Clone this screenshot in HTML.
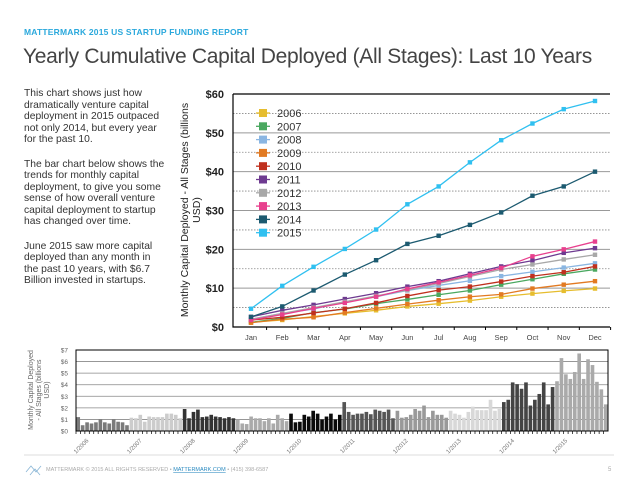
<!DOCTYPE html>
<html><head><meta charset="utf-8"><style>
body{margin:0;width:638px;height:479px;background:#fff;font-family:"Liberation Sans",sans-serif;overflow:hidden;position:relative}
.hdr{position:absolute;left:24px;top:27px;font-size:8.5px;font-weight:bold;color:#2aa8dc;letter-spacing:0.2px}
.ttl{position:absolute;left:23px;top:45px;font-size:21px;color:#444;font-weight:normal;letter-spacing:-0.3px}
.txt{position:absolute;left:24px;top:88px;width:150px;font-size:10.3px;line-height:11.5px;color:#333}
.txt p{margin:0 0 13px 0}
svg{position:absolute;left:0;top:0}
</style></head><body>
<div class="hdr">MATTERMARK 2015 US STARTUP FUNDING REPORT</div>
<div class="ttl">Yearly Cumulative Capital Deployed (All Stages): Last 10 Years</div>
<div class="txt">
<p>This chart shows just how<br>dramatically venture capital<br>deployment in 2015 outpaced<br>not only 2014, but every year<br>for the past 10.</p>
<p>The bar chart below shows the<br>trends for monthly capital<br>deployment, to give you some<br>sense of how overall venture<br>capital deployment to startup<br>has changed over time.</p>
<p>June 2015 saw more capital<br>deployed than any month in<br>the past 10 years, with $6.7<br>Billion invested in startups.</p>
</div>
<svg id="svg" width="638" height="479"></svg>
<script>
const months=["Jan","Feb","Mar","Apr","May","Jun","Jul","Aug","Sep","Oct","Nov","Dec"];
const lineYears=["2006","2007","2008","2009","2010","2011","2012","2013","2014","2015"];
const lineColors=["#e6bd2e","#4aa860","#8ab6e2","#e27a22","#c0301e","#6e3a90","#a8a8a8","#e8408e","#1c5a70","#30c0f0"];
const s2006=[1.2,1.8,2.7,3.5,4.3,5.3,6.0,6.8,7.8,8.6,9.3,9.9];
const s2007=[1.2,2.2,3.7,4.6,6.0,7.1,8.3,9.4,10.9,12.3,13.7,14.8];
const s2008=[2.0,3.5,4.6,6.5,7.8,9.4,10.7,11.9,13.1,14.2,15.3,16.4];
const s2009=[1.1,2.0,2.5,3.7,4.8,5.9,6.9,7.8,8.4,9.9,10.9,11.8];
const s2010=[1.8,2.5,3.6,4.7,6.2,8.0,9.5,10.4,11.7,13.1,14.1,15.6];
const s2011=[2.6,4.3,5.7,7.2,8.7,10.4,11.8,13.7,15.6,17.1,19.1,20.3];
const s2012=[2.0,3.5,5.0,6.5,8.0,9.5,11.2,13.0,14.8,16.1,17.4,18.6];
const s2013=[1.8,3.2,4.8,6.2,7.8,9.8,11.5,13.3,15.2,18.2,20.0,22.0];
const s2014=[2.6,5.3,9.4,13.5,17.2,21.4,23.5,26.3,29.5,33.8,36.2,40.0];
const s2015=[4.7,10.6,15.5,20.1,25.1,31.6,36.2,42.4,48.1,52.4,56.1,58.2];
const lineTicks=["$0","$10","$20","$30","$40","$50","$60"];
const barYears=["2006","2007","2008","2009","2010","2011","2012","2013","2014","2015"];
const barShades=["#7a7a7a","#cccccc","#333333","#aaaaaa","#0a0a0a","#555555","#999999","#d8d8d8","#444444","#aaaaaa"];
const b2006=[1.2,0.5,0.75,0.65,0.75,1.0,0.75,0.65,1.0,0.8,0.75,0.5];
const b2007=[1.15,1.1,1.4,0.8,1.25,1.2,1.2,1.2,1.5,1.5,1.4,1.1];
const b2008=[1.9,1.1,1.65,1.85,1.2,1.25,1.4,1.25,1.2,1.1,1.2,1.1];
const b2009=[1.0,0.65,0.6,1.25,1.1,1.1,0.85,1.1,0.65,1.4,1.1,0.85];
const b2010=[1.5,0.75,0.8,1.4,1.25,1.75,1.5,1.0,1.25,1.5,1.0,1.4];
const b2011=[2.5,1.65,1.4,1.5,1.5,1.65,1.45,1.85,1.75,1.65,1.85,1.1];
const b2012=[1.75,1.15,1.2,1.4,1.9,1.75,2.2,1.2,1.75,1.4,1.4,1.15];
const b2013=[1.75,1.5,1.4,1.15,1.65,2.1,1.8,1.8,1.8,2.7,1.75,1.9];
const b2014=[2.5,2.7,4.2,4.05,3.65,4.2,2.2,2.7,3.2,4.2,2.3,3.8];
const b2015=[4.3,6.3,4.9,4.5,5.1,6.7,4.5,6.2,5.7,4.25,3.6,2.3];
const barTicks=["$0","$1","$2","$3","$4","$5","$6","$7"];

const svg=document.getElementById('svg');
const NS="http://www.w3.org/2000/svg";
function mk(t,a,p){const e=document.createElementNS(NS,t);for(const k in a)e.setAttribute(k,a[k]);(p||svg).appendChild(e);return e;}

// main chart
const L=233,R=610,T=94,B=327;
const xM=i=>251+i*(595-251)/11;
const yM=v=>B-(v/60)*(B-T);
for(let v=5;v<60;v+=10){const g=mk('line',{x1:L,x2:R,y1:yM(v),y2:yM(v),stroke:'#888','stroke-dasharray':'1.5,1.5','stroke-width':0.8});

}
lineTicks.forEach((t,i)=>{const v=i*10;
if(i>0&&i<6){const g=mk('line',{x1:L,x2:R,y1:yM(v),y2:yM(v),stroke:'#999','stroke-width':1});

}
const tx=mk('text',{x:L-9,y:yM(v)+4,'text-anchor':'end','font-size':11,'font-weight':'bold',fill:'#222'});tx.textContent=t;

});
const fr=mk('path',{d:`M${L},${T}H${R}M${L},${T}V${B}H${R}`,stroke:'#000',fill:'none','stroke-width':1.2});


months.forEach((m,i)=>{const t=mk('text',{x:xM(i),y:340,'text-anchor':'middle','font-size':7.5,fill:'#444'});t.textContent=m;


const tk=mk('line',{x1:xM(i)+15.6,x2:xM(i)+15.6,y1:B,y2:B+3,stroke:'#000'});

});
const yt=mk('text',{transform:'translate(188,210) rotate(-90)','text-anchor':'middle','font-size':10.5,fill:'#222'});


const t1=mk('tspan',{x:0,y:0},yt);t1.textContent='Monthly Capital Deployed - All Stages (billions';
const t2=mk('tspan',{x:0,y:12},yt);t2.textContent='USD)';
const series=[s2006,s2007,s2008,s2009,s2010,s2011,s2012,s2013,s2014,s2015];
series.forEach((s,k)=>{const c=lineColors[k];
const pl=mk('polyline',{points:s.map((v,i)=>xM(i)+','+yM(v)).join(' '),fill:'none',stroke:c,'stroke-width':1.3});


s.forEach((v,i)=>{const r=mk('rect',{x:xM(i)-2.2,y:yM(v)-2.2,width:4.4,height:4.4,fill:c});

});
const ly=113+k*13.3;
const ll=mk('line',{x1:256,x2:270,y1:ly,y2:ly,stroke:c,'stroke-width':1.3});


const lr=mk('rect',{x:259,y:ly-4,width:8,height:8,fill:c});


const lt=mk('text',{x:277,y:ly+4,'font-size':11,fill:'#333'});lt.textContent=lineYears[k];

});

// bar chart
const BL=76,BR=608,BT=350,BB=431;
const bw=(BR-BL)/120;
const yB=v=>BB-(v/7)*(BB-BT);
barTicks.forEach((t,i)=>{
if(i>0&&i<7){const g=mk('line',{x1:BL,x2:BR,y1:yB(i),y2:yB(i),stroke:'#888','stroke-width':0.8});

}
const tx=mk('text',{x:68,y:yB(i)+2.5,'text-anchor':'end','font-size':6.5,fill:'#666'});tx.textContent=t;

});
const bars=[b2006,b2007,b2008,b2009,b2010,b2011,b2012,b2013,b2014,b2015];
bars.forEach((s,k)=>{s.forEach((v,i)=>{const idx=k*12+i;
const r=mk('rect',{x:BL+idx*bw+0.4,y:yB(v),width:bw-0.8,height:BB-yB(v),fill:barShades[k]});


const tk=mk('line',{x1:BL+idx*bw,x2:BL+idx*bw,y1:BB,y2:BB+3,stroke:'#000','stroke-width':0.7});

});
const lx=BL+k*12*bw+13;
const t=mk('text',{transform:`translate(${lx},${BB+10}) rotate(-45)`,'text-anchor':'end','font-size':6,fill:'#777'});t.textContent='1/'+barYears[k];

});
const bf=mk('path',{d:`M${BL},${BT}H${BR}V${BB}H${BL}Z`,stroke:'#000',fill:'none','stroke-width':1});


const by=mk('text',{transform:'translate(33,390) rotate(-90)','text-anchor':'middle','font-size':7,fill:'#666'});


['Monthly Capital Deployed','- All Stages (billions','USD)'].forEach((s,i)=>{const ts=mk('tspan',{x:0,y:i*8},by);ts.textContent=s;});

// footer
const fl=mk('line',{x1:24,x2:614,y1:455,y2:455,stroke:'#ddd','stroke-width':1});


const logo=mk('path',{d:'M26,472 l5,-6 l5,6 l5,-6 M30,475 l5,-6 l5,6',stroke:'#8ab6d6',fill:'none','stroke-width':0.8});


const ft=mk('text',{x:46,y:471,'font-size':5.5,fill:'#aaa'});


const f1=mk('tspan',{},ft);f1.textContent='MATTERMARK © 2015 ALL RIGHTS RESERVED   •   ';
const f2=mk('tspan',{fill:'#2a8ac0','text-decoration':'underline'},ft);f2.textContent='MATTERMARK.COM';
const f3=mk('tspan',{},ft);f3.textContent='   •   (415) 398-6587';
const pn=mk('text',{x:608,y:471,'font-size':6,fill:'#aaa'});pn.textContent='5';


</script>
</body></html>
